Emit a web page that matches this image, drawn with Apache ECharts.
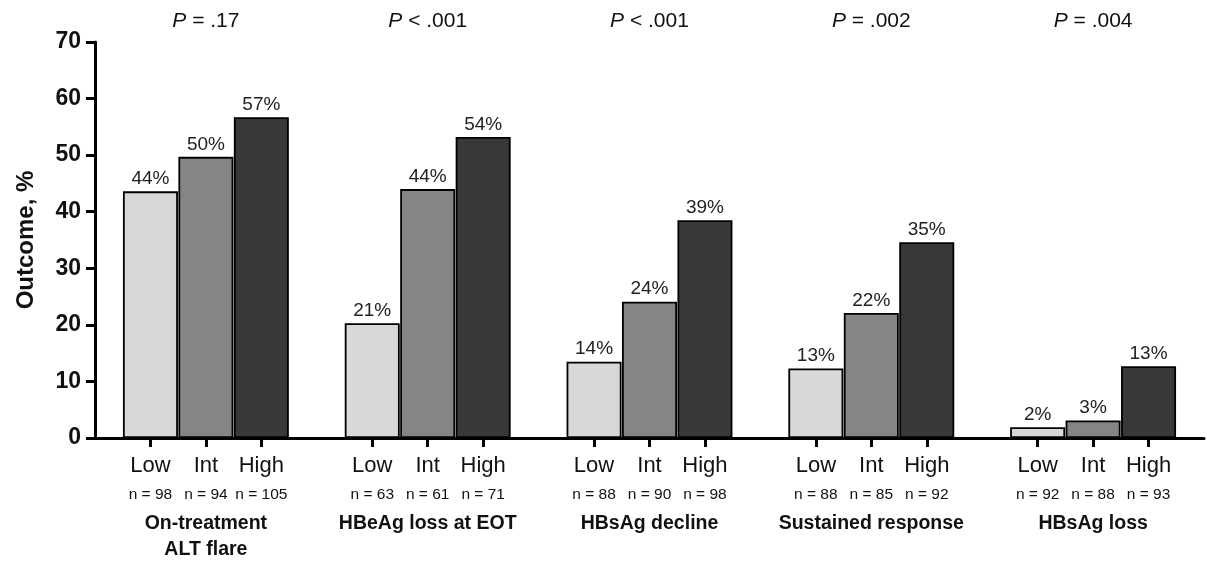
<!DOCTYPE html>
<html>
<head>
<meta charset="utf-8">
<script src="https://cdn.jsdelivr.net/npm/echarts@6/dist/echarts.min.js"></script>
<style>html,body{margin:0;padding:0;background:#fff}#c{width:1207px;height:561px}</style>
</head>
<body>
<div id="c"></div>
<script>
const groupNames = ['On-treatment\nALT flare', 'HBeAg loss at EOT', 'HBsAg decline', 'Sustained response', 'HBsAg loss'];
const levelNames = ['Low', 'Int', 'High'];
const lowValues  = [43.6, 20.3, 13.5, 12.3, 1.9];
const intValues  = [49.7, 44.0, 24.1, 22.1, 3.1];
const highValues = [56.7, 53.2, 38.5, 34.6, 12.7];
const lowLabels  = ['44%', '21%', '14%', '13%', '2%'];
const intLabels  = ['50%', '44%', '24%', '22%', '3%'];
const highLabels = ['57%', '54%', '39%', '35%', '13%'];
const lowN  = [98, 63, 88, 88, 92];
const intN  = [94, 61, 90, 85, 88];
const highN = [105, 71, 98, 92, 93];
const pOps  = ['=', '<', '<', '=', '='];
const pVals = ['.17', '.001', '.001', '.002', '.004'];
const yTicks = [0, 10, 20, 30, 40, 50, 60, 70];

const allValues = [lowValues, intValues, highValues];
const allLabels = [lowLabels, intLabels, highLabels];
const allN = [lowN, intN, highN];
const colors = ['#d8d8d8', '#858585', '#383838'];
const FONT = 'Liberation Sans';

const nCat = groupNames.length * 4 + 1;
const cats = [];
for (let i = 0; i < nCat; i++) cats.push(String(i));
function slot(i) {
  if (i % 4 === 0) return null;
  return { g: Math.floor(i / 4), l: (i % 4) - 1 };
}

const series = levelNames.map((lv, l) => {
  const data = cats.map((c, i) => {
    const s = slot(i);
    return (s && s.l === l) ? allValues[l][s.g] : '-';
  });
  return {
    type: 'bar',
    name: lv,
    data: data,
    barWidth: 55,
    barGap: '-100%',
    itemStyle: { color: colors[l], borderColor: '#000', borderWidth: 1.8 },
    label: {
      show: true, position: 'top', distance: 3,
      fontFamily: FONT, fontSize: 19, color: '#222',
      formatter: p => { const s = slot(p.dataIndex); return s ? allLabels[l][s.g] : ''; }
    },
    silent: true
  };
});

const chart = echarts.init(document.getElementById('c'));
chart.setOption({
  animation: false,
  grid: { left: 95, right: 2, top: 42, bottom: 123, containLabel: false },
  xAxis: [{
    type: 'category', data: cats, boundaryGap: false, position: 'bottom',
    axisLine: { lineStyle: { color: '#000', width: 3 } },
    axisTick: { interval: (i) => i % 4 !== 0, length: 9, lineStyle: { color: '#000', width: 3 } },
    axisLabel: {
      interval: 0, margin: 15,
      formatter: (v, i) => {
        const s = slot(i);
        if (!s) return '';
        let t = '{lv|' + levelNames[s.l] + '}\n{n|n = ' + allN[s.l][s.g] + '}';
        if (s.l === 1) t += '\n{grp|' + groupNames[s.g] + '}';
        return t;
      },
      rich: {
        lv: { fontFamily: FONT, fontSize: 22, color: '#111', lineHeight: 26 },
        n: { fontFamily: FONT, fontSize: 15.5, color: '#111', lineHeight: 32 },
        grp: { fontFamily: FONT, fontSize: 19.5, fontWeight: 'bold', color: '#111', lineHeight: 26 }
      }
    },
    splitLine: { show: false }
  }, {
    type: 'category', data: cats, boundaryGap: false, position: 'top',
    axisLine: { show: false }, axisTick: { show: false },
    axisLabel: {
      interval: 0, margin: 10,
      formatter: (v, i) => {
        const s = slot(i);
        if (!s || s.l !== 1) return '';
        return '{i|P}{t| ' + pOps[s.g] + ' ' + pVals[s.g] + '}';
      },
      rich: {
        i: { fontFamily: FONT, fontSize: 21, fontStyle: 'italic', color: '#111' },
        t: { fontFamily: FONT, fontSize: 21, color: '#111' }
      }
    }
  }],
  yAxis: {
    type: 'value', min: yTicks[0], max: yTicks[yTicks.length - 1], interval: 10,
    name: 'Outcome, %', nameLocation: 'middle', nameRotate: 90, nameGap: 57,
    nameTextStyle: { fontFamily: FONT, fontSize: 24, fontWeight: 'bold', color: '#111' },
    axisLine: { show: true, lineStyle: { color: '#000', width: 3 } },
    axisTick: { show: true, length: 9, lineStyle: { color: '#000', width: 3 } },
    axisLabel: { fontFamily: FONT, fontSize: 23, fontWeight: 'bold', color: '#111', margin: 14 },
    splitLine: { show: false }
  },
  series: series
});
</script>
</body>
</html>
